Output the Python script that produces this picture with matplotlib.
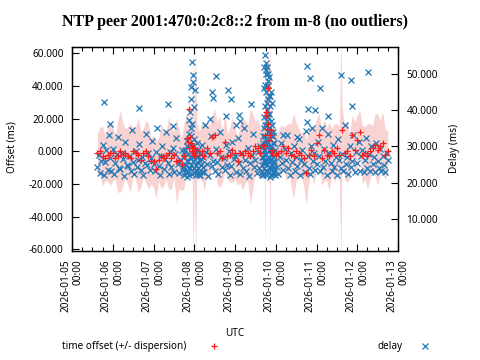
import numpy as np
import pandas as pd
import matplotlib
matplotlib.use("Agg")
import matplotlib.pyplot as plt
import matplotlib.dates as mdates
from matplotlib.lines import Line2D
from matplotlib.ticker import FormatStrFormatter

plt.rcParams['font.family'] = ['Noto Sans', 'DejaVu Sans']

# offset samples, every 90 minutes
off_start = "2026-01-05 15:00"
offset = [-1, 0, -3, -4, -2, -1,
          -1, -4, -3, 0, -2, -1, -3, -4, 0, -1, -2, -5, -1, 0, -3, -6,
          -6, -11, -5, -3, -4, -2, -1, -4, -2, -6, -5, -8, -3, 8, 2, 0,
          -2, 1, -2, 0, -3, 2, -1, 9, 10, -1, 0, -4, 6, -3, -2, 1,
          -1, -6, -1, -2, 0, -1, -3, 0, 3, 2, -1, 4, 22, 39, 13, 1,
          -2, -1, 0, 3, -1, 2, -2, -3, 0, -1, -2, -4, -13, -2, 1, -3,
          5, 10, -4, 1, -2, -3, 0, -1, 2, -2, 13, -1, 0, -3, 10, 1,
          7, 12, -2, -1, -3, 0, 2, 4, 1, 3, 5, -2, 0]
dispersion = [12, 15, 18, 14, 16, 20,
              17, 13, 22, 25, 19, 15, 18, 21, 14, 16, 23, 17, 15, 19, 20, 14,
              16, 18, 13, 20, 17, 15, 22, 19, 14, 26, 18, 16, 20, 15, 17, 19,
              17, 16, 14, 18, 21, 15, 17, 13, 16, 19, 22, 15, 18, 14, 17, 20,
              16, 15, 18, 22, 19, 17, 29, 23, 15, 18, 14, 16, 18, 20, 16, 15,
              14, 13, 16, 12, 17, 15, 19, 26, 18, 15, 13, 17, 20, 16, 14, 18,
              15, 13, 17, 19, 16, 21, 14, 18, 15, 17, 15, 16, 19, 14, 12, 17,
              15, 13, 18, 16, 20, 17, 14, 19, 22, 16, 19, 15, 13]

# delay samples, every 45 minutes
delay_start = "2026-01-05 15:00"
delay = [24.3, 27.6, 22.8, 26.1, 30.4, 22.2, 25.7, 28.9, 23.5, 33.2, 26.8, 23.1,
         29.3, 22.5, 25.4, 27.8, 32.6, 24.1, 23.7, 28.2, 26.5, 21.9, 31.2, 25.0, 24.6, 27.3, 23.2, 34.4,
         25.6, 22.3, 28.7, 24.4, 26.2, 30.8, 23.4, 27.1, 22.0, 25.3, 33.5, 24.8, 28.1, 23.6, 26.7, 31.4,
         25.2, 23.3, 28.4, 35.2, 24.7, 22.1, 27.5, 30.1, 23.8, 26.4, 34.0, 25.5, 22.4, 28.6, 24.2, 29.5,
         23.0, 27.9, 32.3, 25.1, 22.6, 26.3, 29.1, 24.5, 28.3, 23.9, 31.6, 26.0, 33.3, 24.0, 36.2, 27.2,
         29.0, 23.5, 25.8, 27.4, 22.2, 26.6, 30.3, 24.3, 22.9, 28.5, 25.2, 21.8, 27.7, 33.0, 24.5, 26.1,
         23.1, 29.4, 25.6, 22.3, 34.1, 27.0, 24.2, 26.9, 23.4, 30.5, 25.0, 28.8, 22.0, 24.7, 31.1, 26.4,
         27.3, 23.0, 32.2, 25.4, 22.5, 28.1, 24.1, 35.0, 26.3, 23.2, 29.6, 21.9, 25.3, 27.6, 33.4, 24.4,
         26.2, 22.8, 28.4, 24.0, 30.2, 22.1, 27.2, 25.1, 23.3, 31.3, 26.6, 24.3, 29.2, 22.4, 32.8, 25.5,
         28.0, 24.2, 22.3, 27.1, 31.0, 25.3, 23.4, 29.3, 26.2, 33.1, 24.1, 22.2, 28.3, 25.6, 30.0, 23.1,
         27.0, 24.5, 32.1, 22.0, 26.3, 29.0, 25.2, 23.0, 34.2, 27.4, 24.0, 22.3, 30.1, 26.1, 28.2, 23.4,
         25.1, 31.2, 27.3, 23.2, 35.1, 24.4, 29.2, 26.0, 22.1, 33.3, 28.1, 25.4, 23.1, 30.3, 24.2, 27.1,
         22.2, 32.0, 26.2, 24.1, 28.0, 23.3, 36.0, 25.2, 27.2, 22.4, 30.2, 24.3, 26.0, 33.2, 23.0, 28.4,
         25.3, 31.1, 23.2, 27.3, 29.1, 22.9, 26.2, 32.2, 24.1, 28.0, 23.3, 30.0, 25.1, 27.2, 23.0, 31.0,
         26.1, 24.0, 29.2, 23.1, 27.4, 25.0, 22.9, 28.2, 26.3]

# extra samples, in days after 2026-01-05 00:00
extra_delay_t = [0.785, 0.93, 1.64, 2.36, 2.48, 3.26, 3.39, 3.44, 3.46, 3.53,
                 3.78, 3.83, 3.90, 4.02, 4.10, 4.12, 4.39, 5.18, 5.52, 5.77,
                 5.84, 5.79, 5.76, 5.89, 5.96, 6.09, 6.28, 6.60, 6.85, 6.87, 7.26]
extra_delay = [42.2, 36.3, 40.5, 41.6, 35.6, 35.9, 37.5, 45.0, 43.3, 49.4,
               38.3, 45.5, 43.0, 35.9, 38.6, 37.0, 41.6, 33.1, 32.6, 52.1,
               48.8, 40.3, 36.7, 35.0, 40.0, 46.1, 38.4, 49.6, 48.3, 41.1, 50.5]

burst1_t = [2.72, 2.74, 2.75, 2.77, 2.78, 2.80, 2.81, 2.83, 2.84, 2.85,
            2.86, 2.87, 2.88, 2.89, 2.90, 2.91, 2.92, 2.93, 2.94, 2.95,
            2.96, 2.97, 2.98, 2.99, 3.00, 3.01, 3.02, 3.03, 3.04, 3.05,
            3.07, 3.08, 3.10, 3.11, 3.13, 3.14, 3.16, 3.17, 3.19, 3.21,
            2.87, 2.91, 2.95, 2.99, 3.03, 3.06, 2.82, 2.93]
burst1_delay = [24, 22, 27, 23, 29, 25, 21.5, 26, 28, 23,
                37.3, 24, 22, 39.4, 27, 46.3, 25, 43, 53.2, 22.5,
                47.7, 26, 49.6, 24, 40.8, 28, 23, 45.5, 25, 22,
                27, 24, 29, 23, 26, 22, 28, 25, 23, 27,
                31, 33, 30, 32, 29, 31, 30, 35]
burst2_t = [4.66, 4.67, 4.68, 4.69, 4.70, 4.70, 4.71, 4.72, 4.72, 4.73,
            4.74, 4.74, 4.75, 4.76, 4.76, 4.77, 4.78, 4.78, 4.79, 4.80,
            4.80, 4.81, 4.82, 4.82, 4.83, 4.84, 4.84, 4.85, 4.86, 4.86,
            4.87, 4.88, 4.88, 4.89, 4.90, 4.90, 4.91, 4.92, 4.93, 4.94,
            4.95, 4.96, 4.97, 4.98, 4.72, 4.75, 4.78, 4.81, 4.84, 4.87,
            4.69, 4.73, 4.77, 4.83, 4.89, 4.93, 4.76, 4.80, 4.85, 4.91,
            4.665, 4.685, 4.705, 4.725, 4.745, 4.765, 4.785, 4.805, 4.825, 4.845,
            4.865, 4.885, 4.905, 4.925, 4.945, 4.965, 4.71, 4.79, 4.81, 4.74]
burst2_delay = [23, 27, 31, 22, 35, 26, 29, 38, 24, 41,
                33, 55.1, 28, 45, 22, 50, 36, 25, 52, 30,
                43, 23, 47, 34, 27, 49, 39, 24, 32, 44,
                26, 37, 22, 30, 42, 25, 33, 28, 23, 27,
                31, 24, 29, 22, 46, 53, 40, 48, 35, 21.5,
                30, 26, 32, 44, 28, 34, 51, 38, 41, 36,
                25, 33, 28, 36, 47, 31, 42, 26, 39, 29,
                34, 45, 24, 31, 26, 23, 52, 37, 50, 29]

burst_off_t = [2.85, 2.88, 2.90, 2.93, 2.95, 2.97, 3.00, 3.03,
               4.72, 4.74, 4.76, 4.78, 4.80, 4.82, 4.84, 4.86, 4.88, 4.90, 6.60]
burst_off = [6, 26, 8.5, 5, 3, -1, 2, -2,
             3, 10, 24, 13.5, 39, 16.5, 7, 10, 1, -1, 2]
burst_disp = [15, 18, 16, 14, 16, 70, 13, 68,
              16, 72, 20, 15, 18, 14, 17, 70, 15, 16, 72]

base = pd.Timestamp("2026-01-05")

def days(v):
    return base + pd.to_timedelta(v, unit="D")

t_off = pd.date_range(off_start, periods=len(offset), freq="90min")
t_delay = pd.date_range(delay_start, periods=len(delay), freq="45min")

band = pd.DataFrame({'t': list(t_off) + list(days(burst_off_t)),
                     'off': offset + burst_off,
                     'disp': dispersion + burst_disp}).sort_values('t')

red = '#ff1a1a'
blue = '#1f78b8'
pink = '#f9d2d2'

fig = plt.figure(figsize=(4.8, 3.6), dpi=100)
ax = fig.add_axes([72/480, 1-251/360, 326/480, (251-47.3)/360])
ax2 = ax.twinx()
ax3 = ax.twinx()

ax.fill_between(band['t'], band['off'] - band['disp'], band['off'] + band['disp'],
                color=pink, lw=0)
mk = dict(ls='none', ms=5, mew=0.9)
ax2.plot(t_delay, delay, marker='x', color=blue, **mk)
ax2.plot(days(extra_delay_t), extra_delay, marker='x', color=blue, **mk)
ax2.plot(days(burst1_t), burst1_delay, marker='x', color=blue, **mk)
ax2.plot(days(burst2_t), burst2_delay, marker='x', color=blue, **mk)
ax3.plot(t_off, offset, marker='+', color=red, **mk)
ax3.plot(days(burst_off_t[:-1]), burst_off[:-1], marker='+', color=red, **mk)

ylim = (-61.0, 63.7)
ax.set_ylim(*ylim)
ax3.set_ylim(*ylim)
ax3.axis('off')
ax2.set_ylim(1.2, 57.3)
ax.set_xlim(pd.Timestamp("2026-01-05"), pd.Timestamp("2026-01-13"))

ax.set_yticks([-60, -40, -20, 0, 20, 40, 60])
ax.yaxis.set_major_formatter(FormatStrFormatter('%.3f'))
ax2.set_yticks([10, 20, 30, 40, 50])
ax2.yaxis.set_major_formatter(FormatStrFormatter('%.3f'))

ax.xaxis.set_major_locator(mdates.DayLocator())
ax.xaxis.set_minor_locator(mdates.HourLocator(byhour=[6, 12, 18]))
ax.xaxis.set_major_formatter(mdates.DateFormatter('%Y-%m-%d\n%H:%M'))
plt.setp(ax.get_xticklabels(), rotation=90, ha='center', va='top', multialignment='right')

ax.tick_params(axis='x', which='major', direction='in', length=5, top=True, labelsize=7.2, pad=6, width=0.8)
ax.tick_params(axis='x', which='minor', direction='in', length=3, top=True, width=0.8)
ax.tick_params(axis='y', direction='in', length=5, right=False, labelsize=7.2, pad=6, width=0.8)
ax2.tick_params(axis='y', direction='in', length=5, labelsize=7.2, pad=6, width=0.8)
for a in (ax, ax2):
    for s in a.spines.values():
        s.set_linewidth(0.9)

fig.suptitle('NTP peer 2001:470:0:2c8::2 from m-8 (no outliers)', x=235/480, y=1-22/360,
             va='center', fontsize=11.5, fontweight='bold', family='Liberation Serif')
fig.text(12.5/480, 1-147/360, 'Offset (ms)', rotation=90, ha='center', va='center', fontsize=7.2)
fig.text(455/480, 1-148/360, 'Delay (ms)', rotation=90, ha='center', va='center', fontsize=7.2)
fig.text(235/480, 1-333/360, 'UTC', ha='center', va='center', fontsize=7.2)

fig.text(62/480, 1-346/360, 'time offset (+/- dispersion)', ha='left', va='center', fontsize=7.2)
fig.add_artist(Line2D([214/480], [1-346/360], marker='+', color=red, ms=4, mew=0.9, ls='none'))
fig.text(403/480, 1-346/360, 'delay', ha='right', va='center', fontsize=7.2)
fig.add_artist(Line2D([425/480], [1-346/360], marker='x', color=blue, ms=4, mew=0.9, ls='none'))

fig.savefig('out.png', dpi=100)
